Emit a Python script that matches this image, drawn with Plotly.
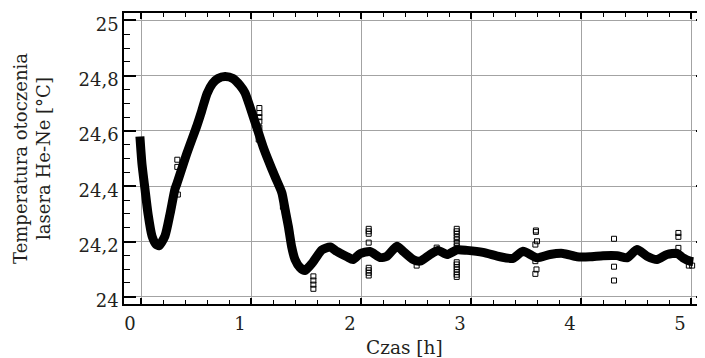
import plotly.graph_objects as go

# Main temperature record (time in hours, temperature in deg C)
time_h = [0.09, 0.109, 0.136, 0.164, 0.200, 0.236, 0.264, 0.318, 0.364, 0.409, 0.427,
          0.518, 0.609, 0.65, 0.70, 0.75, 0.80, 0.864, 0.936, 1.0, 1.045, 1.09, 1.15,
          1.21, 1.255, 1.318, 1.38, 1.41, 1.44, 1.47, 1.50, 1.545, 1.59, 1.66,
          1.745, 1.82, 1.88, 1.973, 2.027, 2.091, 2.182, 2.273, 2.336, 2.427, 2.482,
          2.573, 2.636, 2.727, 2.80, 2.882, 2.973, 3.064, 3.209, 3.364, 3.482, 3.573,
          3.70, 3.818, 3.936, 4.064, 4.182, 4.30, 4.427, 4.518, 4.609, 4.70, 4.791,
          4.882, 4.973, 5.027, 5.091, 5.12]
temp_c = [24.58, 24.48, 24.39, 24.30, 24.22, 24.19, 24.185, 24.22, 24.30, 24.39, 24.41,
          24.52, 24.62, 24.67, 24.735, 24.772, 24.79, 24.797, 24.79, 24.765, 24.738, 24.688, 24.616,
          24.543, 24.496, 24.435, 24.377, 24.316, 24.254, 24.18, 24.135, 24.106, 24.095, 24.124,
          24.17, 24.18, 24.164, 24.145, 24.135, 24.156, 24.164, 24.142, 24.147, 24.183, 24.165,
          24.135, 24.129, 24.153, 24.168, 24.153, 24.17, 24.168, 24.161, 24.145, 24.139, 24.165,
          24.141, 24.153, 24.157, 24.145, 24.145, 24.149, 24.149, 24.141, 24.171, 24.147, 24.135,
          24.153, 24.157, 24.141, 24.129, 24.127]

# Isolated samples (outliers) shown as open squares
out_t = [0.155, 0.43, 0.43, 0.435,
         1.176, 1.176, 1.176, 1.176, 1.176, 1.17,
         1.39,
         1.667, 1.667, 1.667, 1.667,
         2.17, 2.17, 2.17, 2.17, 2.17, 2.17, 2.17, 2.17,
         2.606, 2.788,
         2.97, 2.97, 2.97, 2.97, 2.97, 2.97, 2.97, 2.97, 2.97, 2.97, 2.97, 2.97, 2.97, 2.97,
         3.69, 3.69, 3.70, 3.685, 3.685, 3.695, 3.685,
         4.40, 4.40, 4.40,
         4.985, 4.985, 4.985,
         5.08, 5.11]
out_T = [24.323, 24.496, 24.47, 24.37,
         24.683, 24.665, 24.65, 24.634, 24.612, 24.569,
         24.326,
         24.074, 24.059, 24.044, 24.029,
         24.246, 24.237, 24.228, 24.196, 24.105, 24.096, 24.087, 24.077,
         24.113, 24.178,
         24.246, 24.237, 24.228, 24.217, 24.207, 24.195, 24.183, 24.125, 24.117, 24.108,
         24.099, 24.089, 24.080, 24.072,
         24.24, 24.235, 24.201, 24.189, 24.129, 24.099, 24.083,
         24.21, 24.109, 24.059,
         24.231, 24.217, 24.177,
         24.113, 24.113]

x_tick_pos = [0.1, 1.1, 2.1, 3.1, 4.1, 5.1]
x_tick_text = ["0", "1", "2", "3", "4", "5"]
y_tick_vals = [24.0, 24.2, 24.4, 24.6, 24.8, 25.0]
y_tick_text = ["24", "24,2", "24,4", "24,6", "24,8", "25"]

FONT = "DejaVu Serif, Liberation Serif, serif"
TXT = "#231f20"
GRID = "#a3a3a3"

fig = go.Figure()
fig.add_trace(go.Scatter(x=time_h, y=temp_c, mode="lines",
                         line=dict(color="black", width=9, shape="spline", smoothing=0.6),
                         showlegend=False))
fig.add_trace(go.Scatter(x=out_t, y=out_T, mode="markers",
                         marker=dict(symbol="square-open", size=5, color="black",
                                     line=dict(width=1, color="black")),
                         showlegend=False))
# empty trace to carry the right-hand tick axis
fig.add_trace(go.Scatter(x=[None], y=[None], yaxis="y2", showlegend=False, hoverinfo="skip"))

xr = [-0.0545, 5.227]
yr = [23.974, 25.0268]

# the page body keeps its default 8 px margin, so the figure is 8 px smaller
fig.update_layout(
    width=697, height=350,
    margin=dict(l=116, r=0, t=5, b=54, autoexpand=False),
    paper_bgcolor="white", plot_bgcolor="white",
    font=dict(family=FONT, color=TXT, size=18),
    xaxis=dict(range=xr, tickmode="array", tickvals=x_tick_pos, ticktext=x_tick_text,
               ticklabelshift=-11, ticklabelstandoff=3,
               ticks="inside", ticklen=6, tickwidth=1.5, tickcolor="black",
               showgrid=True, gridcolor=GRID, gridwidth=1.2, zeroline=False,
               showline=True, linecolor="black", linewidth=1.5, mirror="ticks",
               automargin=False, ticklabeloverflow="allow",
               tickfont=dict(size=18, family=FONT, color=TXT),
               minor=dict(ticks="inside", ticklen=4, tickcolor="black", tickwidth=1,
                          tick0=0.1, dtick=0.2, showgrid=False)),
    yaxis=dict(range=yr, tickmode="array", tickvals=y_tick_vals, ticktext=y_tick_text,
               ticklabelshift=4, ticks="inside", ticklen=12, tickwidth=1.5, tickcolor="black",
               showgrid=True, gridcolor=GRID, gridwidth=1.2, zeroline=False,
               showline=True, linecolor="black", linewidth=1.5, automargin=False,
               ticklabeloverflow="allow",
               tickfont=dict(size=18, family=FONT, color=TXT),
               minor=dict(ticks="inside", ticklen=6, tickcolor="black", tickwidth=1,
                          tick0=24, dtick=0.05, showgrid=False),
               title=dict(text="Temperatura otoczenia<br>lasera He-Ne [°C]",
                          font=dict(size=18, family=FONT, color=TXT), standoff=23)),
    yaxis2=dict(range=yr, overlaying="y", side="right", anchor="x",
                tickmode="array", tickvals=y_tick_vals, showticklabels=False,
                ticks="inside", ticklen=9, tickwidth=1.5, tickcolor="black",
                showgrid=False, zeroline=False, showline=False, automargin=False,
                minor=dict(ticks="inside", ticklen=4, tickcolor="black", tickwidth=1,
                           tick0=24, dtick=0.05, showgrid=False)),
    annotations=[dict(text="Czas [h]", x=0.4828, y=-0.149, xref="paper", yref="paper",
                      xanchor="center", yanchor="middle", showarrow=False,
                      font=dict(size=18.5, family=FONT, color=TXT))],
)

fig.write_html("out.html")
